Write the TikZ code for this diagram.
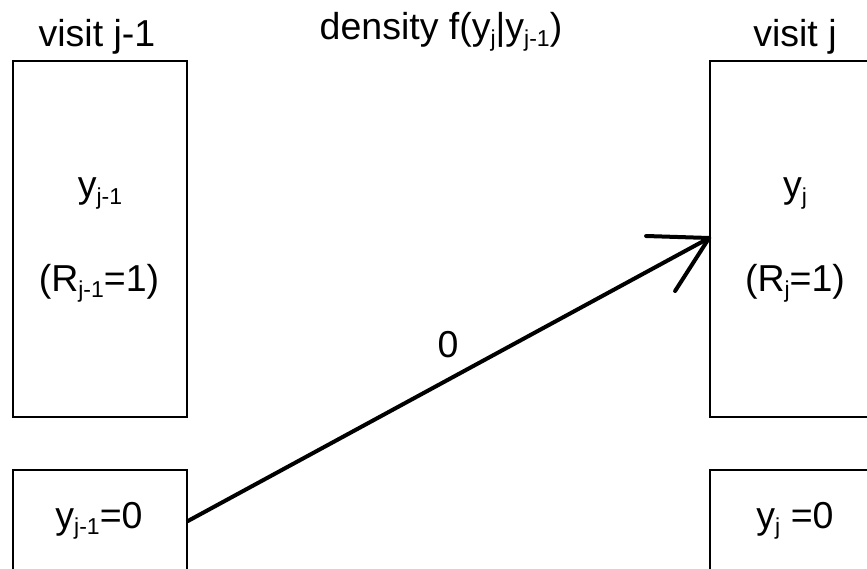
\documentclass[tikz,border=0pt]{standalone}
\usepackage{fontspec}
\setmainfont{Liberation Sans}
\newcommand{\lowidx}[1]{\raisebox{-0.17em}{\fontsize{23}{23}\selectfont #1}}
\begin{document}
\begin{tikzpicture}[x=1pt,y=-1pt,
  box/.style={draw,line width=1.8pt,minimum width=174pt,inner sep=0pt},
  txt/.style={font=\fontsize{37.5}{40}\selectfont,inner sep=0pt,anchor=base},
  conn/.style={line width=4pt,line cap=round},
]
\useasboundingbox (0,0) rectangle (867,569);
\clip (0,0) rectangle (867,569);
% boxes
\node[box,minimum height=356pt] (prevbox) at (100,239) {};
\node[box,minimum height=200pt,anchor=north] (prevzero) at (100,469) {};
\node[box,minimum height=356pt] (curbox) at (797,239) {};
\node[box,minimum height=200pt,anchor=north] (curzero) at (797,469) {};
% headings
\node[txt] (vprev) at (97,47) {visit j-1};
\node[txt] (dens) at (441,40) {density f(y\lowidx{j}|y\lowidx{j-1})};
\node[txt] (vcur) at (795,47) {visit j};
% box texts
\node[txt] (yprev) at (100,198) {y\lowidx{j-1}};
\node[txt] (rprev) at (99,291) {(R\lowidx{j-1}=1)};
\node[txt] (ycur) at (795,198) {y\lowidx{j}};
\node[txt] (rcur) at (795,291) {(R\lowidx{j}=1)};
\node[txt] (zprev) at (99,528) {y\lowidx{j-1}=0};
\node[txt] (zcur) at (795,528) {y\lowidx{j} =0};
% connector
\coordinate (startlvl) at (0,521);
\coordinate (tiplvl) at (0,238);
\coordinate (start) at (prevzero.east |- startlvl);
\coordinate (tip) at (curbox.west |- tiplvl);
\draw[conn] (start) -- (tip);
\draw[conn] (tip) -- ++(-63,-2);
\draw[conn] (tip) -- ++(-34,53);
\node[txt] (lab) at (448,357) {0};
\end{tikzpicture}
\end{document}
